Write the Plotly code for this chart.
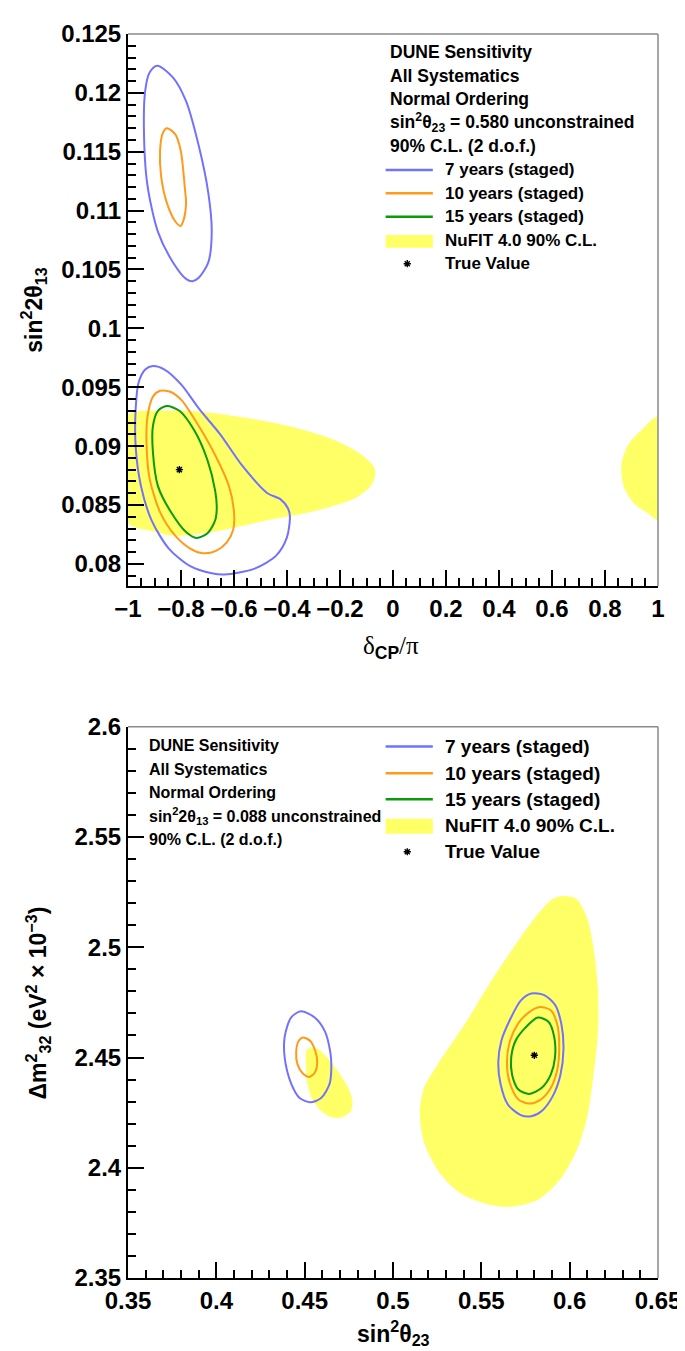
import plotly.graph_objects as go

# ---------------- DATA: top panel (delta_CP/pi vs sin^2 2theta13) ----------------
top_xticks = [-1, -0.8, -0.6, -0.4, -0.2, 0, 0.2, 0.4, 0.6, 0.8, 1]
top_xticklabels = ["\u22121", "\u22120.8", "\u22120.6", "\u22120.4", "\u22120.2", "0", "0.2", "0.4", "0.6", "0.8", "1"]
top_yticks = [0.08, 0.085, 0.09, 0.095, 0.1, 0.105, 0.11, 0.115, 0.12, 0.125]
top_yticklabels = ["0.08", "0.085", "0.09", "0.095", "0.1", "0.105", "0.11", "0.115", "0.12", "0.125"]

nufit_top_left_x = [-1.0, -0.879, -0.717, -0.555, -0.393, -0.231, -0.134, -0.077, -0.066, -0.085, -0.150,
                    -0.312, -0.474, -0.636, -0.749, -0.830, -0.911, -1.0]
nufit_top_left_y = [0.0926, 0.0930, 0.0929, 0.0924, 0.0917, 0.0906, 0.0895, 0.0884, 0.0877, 0.0866, 0.0855,
                    0.0844, 0.0837, 0.0829, 0.0825, 0.0824, 0.0828, 0.0835]
nufit_top_right_x = [1.0, 0.935, 0.887, 0.862, 0.870, 0.911, 0.968, 1.0]
nufit_top_right_y = [0.0925, 0.0913, 0.0901, 0.0884, 0.0866, 0.0851, 0.0842, 0.0837]

y7_top_upper_x = [-0.890, -0.830, -0.781, -0.733, -0.697, -0.684, -0.697, -0.733, -0.757, -0.781, -0.830,
                  -0.887, -0.927, -0.940, -0.935, -0.919]
y7_top_upper_y = [0.1223, 0.1213, 0.1193, 0.1155, 0.1115, 0.1082, 0.1056, 0.1043, 0.1040, 0.1042, 0.1056,
                  0.1082, 0.1122, 0.1170, 0.1202, 0.1217]
y10_top_upper_x = [-0.854, -0.822, -0.801, -0.785, -0.781, -0.789, -0.802, -0.822, -0.854, -0.875, -0.879, -0.870]
y10_top_upper_y = [0.1170, 0.1165, 0.1151, 0.1118, 0.1107, 0.1093, 0.1087, 0.1091, 0.1107, 0.1129, 0.1151, 0.1165]

y7_top_lower_x = [-0.906, -0.862, -0.798, -0.733, -0.652, -0.571, -0.474, -0.425, -0.396, -0.389, -0.401,
                  -0.441, -0.522, -0.636, -0.684, -0.765, -0.846, -0.911, -0.951, -0.971, -0.971, -0.960, -0.935]
y7_top_lower_y = [0.0968, 0.0965, 0.0952, 0.0932, 0.0910, 0.0884, 0.0860, 0.0855, 0.0847, 0.0840, 0.0822,
                  0.0807, 0.0796, 0.0791, 0.0792, 0.0798, 0.0813, 0.0837, 0.0866, 0.0899, 0.0932, 0.0954, 0.0965]
y10_top_lower_x = [-0.879, -0.838, -0.798, -0.733, -0.668, -0.619, -0.600, -0.603, -0.628, -0.668, -0.717,
                   -0.765, -0.822, -0.879, -0.919, -0.930, -0.927, -0.906]
y10_top_lower_y = [0.0947, 0.0946, 0.0939, 0.0917, 0.0891, 0.0866, 0.0844, 0.0829, 0.0818, 0.0811, 0.0809,
                   0.0813, 0.0824, 0.0844, 0.0873, 0.0902, 0.0924, 0.0942]
y15_top_x = [-0.854, -0.806, -0.749, -0.700, -0.671, -0.665, -0.671, -0.700, -0.741, -0.781, -0.838,
             -0.887, -0.906, -0.906, -0.887]
y15_top_y = [0.0934, 0.0930, 0.0913, 0.0888, 0.0862, 0.0848, 0.0837, 0.0826, 0.0822, 0.0827, 0.0844,
             0.0866, 0.0895, 0.0917, 0.0930]
true_top = (-0.806, 0.0880)

# ---------------- DATA: bottom panel (sin^2 theta23 vs dm^2_32) ----------------
bot_xticks = [0.35, 0.4, 0.45, 0.5, 0.55, 0.6, 0.65]
bot_xticklabels = ["0.35", "0.4", "0.45", "0.5", "0.55", "0.6", "0.65"]
bot_yticks = [2.35, 2.4, 2.45, 2.5, 2.55, 2.6]
bot_yticklabels = ["2.35", "2.4", "2.45", "2.5", "2.55", "2.6"]

nufit_bot_small_x = [0.4513, 0.4569, 0.4629, 0.4702, 0.4751, 0.4770, 0.4763, 0.4714, 0.4666, 0.4605, 0.4545, 0.4515, 0.4508]
nufit_bot_small_y = [2.4537, 2.4541, 2.4499, 2.4422, 2.4355, 2.4307, 2.4259, 2.4230, 2.4226, 2.4249, 2.4307, 2.4383, 2.4460]
nufit_bot_big_x = [0.5965, 0.6038, 0.6099, 0.6135, 0.6160, 0.6160, 0.6135, 0.6099, 0.6038, 0.5941, 0.5820, 0.5662,
                   0.5528, 0.5382, 0.5261, 0.5176, 0.5152, 0.5176, 0.5261, 0.5407, 0.5553, 0.5698, 0.5820, 0.5905]
nufit_bot_big_y = [2.5232, 2.5219, 2.5132, 2.4998, 2.4806, 2.4614, 2.4422, 2.4230, 2.4076, 2.3942, 2.3855, 2.3823,
                   2.3836, 2.3884, 2.3980, 2.4115, 2.4249, 2.4364, 2.4479, 2.4652, 2.4844, 2.5017, 2.5151, 2.5219]

y7_bot_left_x = [0.4479, 0.4557, 0.4617, 0.4649, 0.4642, 0.4593, 0.4532, 0.4472, 0.4423, 0.4387, 0.4387, 0.4423]
y7_bot_left_y = [2.4710, 2.4681, 2.4614, 2.4499, 2.4383, 2.4316, 2.4297, 2.4316, 2.4383, 2.4499, 2.4595, 2.4681]
y10_bot_left_x = [0.4489, 0.4532, 0.4561, 0.4571, 0.4557, 0.4525, 0.4491, 0.4459, 0.4452, 0.4464]
y10_bot_left_y = [2.4591, 2.4575, 2.4527, 2.4479, 2.4431, 2.4412, 2.4426, 2.4470, 2.4527, 2.4572]

y7_bot_right_x = [0.5783, 0.5856, 0.5917, 0.5953, 0.5965, 0.5948, 0.5905, 0.5844, 0.5783, 0.5723, 0.5650,
                  0.5608, 0.5596, 0.5613, 0.5662, 0.5723]
y7_bot_right_y = [2.4790, 2.4783, 2.4739, 2.4652, 2.4537, 2.4422, 2.4326, 2.4259, 2.4234, 2.4239, 2.4287,
                  2.4383, 2.4479, 2.4575, 2.4671, 2.4758]
y10_bot_right_x = [0.5832, 0.5893, 0.5929, 0.5941, 0.5929, 0.5888, 0.5832, 0.5771, 0.5710, 0.5662, 0.5645,
                   0.5662, 0.5710, 0.5771]
y10_bot_right_y = [2.4729, 2.4714, 2.4652, 2.4556, 2.4441, 2.4355, 2.4307, 2.4291, 2.4310, 2.4383, 2.4479,
                   2.4575, 2.4656, 2.4706]
y15_bot_right_x = [0.5820, 0.5880, 0.5912, 0.5917, 0.5893, 0.5844, 0.5771, 0.5710, 0.5674, 0.5669, 0.5693, 0.5747]
y15_bot_right_y = [2.4681, 2.4662, 2.4595, 2.4499, 2.4422, 2.4364, 2.4335, 2.4355, 2.4422, 2.4499, 2.4575, 2.4633]
true_bot = (0.580, 2.451)

series_names = ["7 years (staged)", "10 years (staged)", "15 years (staged)", "NuFIT 4.0 90% C.L.", "True Value"]
top_header = ["DUNE Sensitivity", "All Systematics", "Normal Ordering",
              "sin<sup>2</sup>\u03b8<sub>23</sub> = 0.580 unconstrained", "90% C.L. (2 d.o.f.)"]
bot_header = ["DUNE Sensitivity", "All Systematics", "Normal Ordering",
              "sin<sup>2</sup>2\u03b8<sub>13</sub> = 0.088 unconstrained", "90% C.L. (2 d.o.f.)"]

# ---------------- STYLE ----------------
BLUE = "#7272ff"
ORANGE = "#ff9a1a"
GREEN = "#0a9a0a"
YELLOW = "#ffff66"
FONT = "Liberation Sans, Arial, Helvetica, sans-serif"
W, H = 685, 1351
L, R, T, B = 120, 26, 13, 81
PW = W - L - R
PH = H - T - B
TOP_DOM = [1 - (571 - T) / PH, 1.0]
BOT_DOM = [0.0, 1 - (713 - T) / PH]
STAR = dict(symbol="asterisk-open", size=6, color="black", line=dict(width=1.4, color="black"))


def pp(px, py):
    """pixel -> paper coordinates"""
    return (px - L) / PW, (H - B - py) / PH


def closed(xs, ys):
    return list(xs) + [xs[0]], list(ys) + [ys[0]]


fig = go.Figure()


def add_fill(xs, ys, xa, ya):
    cx, cy = closed(xs, ys)
    fig.add_trace(go.Scatter(x=cx, y=cy, mode="lines", fill="toself", fillcolor=YELLOW,
                             line=dict(width=0, shape="spline", smoothing=0.8, color=YELLOW),
                             xaxis=xa, yaxis=ya, showlegend=False, hoverinfo="skip"))


def add_line(xs, ys, color, xa, ya):
    cx, cy = closed(xs, ys)
    fig.add_trace(go.Scatter(x=cx, y=cy, mode="lines",
                             line=dict(width=2, color=color, shape="spline", smoothing=0.8),
                             xaxis=xa, yaxis=ya, showlegend=False, hoverinfo="skip"))


# top panel
add_fill(nufit_top_left_x, nufit_top_left_y, "x", "y")
add_fill(nufit_top_right_x, nufit_top_right_y, "x", "y")
add_line(y7_top_upper_x, y7_top_upper_y, BLUE, "x", "y")
add_line(y10_top_upper_x, y10_top_upper_y, ORANGE, "x", "y")
add_line(y7_top_lower_x, y7_top_lower_y, BLUE, "x", "y")
add_line(y10_top_lower_x, y10_top_lower_y, ORANGE, "x", "y")
add_line(y15_top_x, y15_top_y, GREEN, "x", "y")
fig.add_trace(go.Scatter(x=[true_top[0]], y=[true_top[1]], mode="markers", xaxis="x", yaxis="y",
                         marker=STAR, showlegend=False))

# bottom panel
add_fill(nufit_bot_small_x, nufit_bot_small_y, "x2", "y2")
add_fill(nufit_bot_big_x, nufit_bot_big_y, "x2", "y2")
add_line(y7_bot_left_x, y7_bot_left_y, BLUE, "x2", "y2")
add_line(y10_bot_left_x, y10_bot_left_y, ORANGE, "x2", "y2")
add_line(y7_bot_right_x, y7_bot_right_y, BLUE, "x2", "y2")
add_line(y10_bot_right_x, y10_bot_right_y, ORANGE, "x2", "y2")
add_line(y15_bot_right_x, y15_bot_right_y, GREEN, "x2", "y2")
fig.add_trace(go.Scatter(x=[true_bot[0]], y=[true_bot[1]], mode="markers", xaxis="x2", yaxis="y2",
                         marker=STAR, showlegend=False))

tickfont = dict(family=FONT, size=24, color="black", weight="bold")


def axis(rng, tv, tt, minor_dt, dom, anchor, t0):
    return dict(range=rng, domain=dom, anchor=anchor, tickmode="array", tickvals=tv, ticktext=tt,
                ticks="inside", ticklen=16, tickwidth=1.5, tickcolor="black",
                showline=True, linecolor="black", linewidth=2, mirror=False,
                showgrid=False, zeroline=False, tickfont=tickfont,
                minor=dict(ticks="inside", ticklen=8, tickwidth=1.5, tickcolor="black",
                           dtick=minor_dt, tick0=t0, showgrid=False))


fig.update_layout(
    width=W, height=H, margin=dict(l=L, r=R, t=T, b=B, pad=0),
    paper_bgcolor="white", plot_bgcolor="white", showlegend=False,
    xaxis=axis([-1, 1], top_xticks, top_xticklabels, 0.05, [0, 1], "y", -1),
    yaxis=axis([0.0781, 0.125], top_yticks, top_yticklabels, 0.001, TOP_DOM, "x", 0.08),
    xaxis2=axis([0.35, 0.65], bot_xticks, bot_xticklabels, 0.01, [0, 1], "y2", 0.35),
    yaxis2=axis([2.35, 2.6], bot_yticks, bot_yticklabels, 0.01, BOT_DOM, "x2", 2.35),
)

shapes = []
# grey top/right frame lines
for xr, yr in (("x domain", "y domain"), ("x2 domain", "y2 domain")):
    shapes.append(dict(type="line", xref=xr, yref=yr, x0=0, x1=1, y0=1, y1=1, line=dict(color="#8a8a8a", width=1.5)))
    shapes.append(dict(type="line", xref=xr, yref=yr, x0=1, x1=1, y0=0, y1=1, line=dict(color="#8a8a8a", width=1.5)))

annotations = []


def txt(px, py, text, size, bold=True, anchor="left", angle=0, family=FONT):
    x, y = pp(px, py)
    annotations.append(dict(x=x, y=y, xref="paper", yref="paper", text=text, showarrow=False,
                            xanchor=anchor, yanchor="middle", textangle=angle,
                            font=dict(family=family, size=size, color="black",
                                      weight="bold" if bold else "normal")))


# ---- top legend ----
for i, line in enumerate(top_header):
    txt(384, 31.5 + 23.7 * i, line, 17.5)
leg_y_top = [150.3, 174.0, 197.7, 221.4, 245.1]
for name, ly in zip(series_names, leg_y_top):
    txt(440, ly, name, 17)
for color, ly in zip([BLUE, ORANGE, GREEN], leg_y_top[:3]):
    x0, y0 = pp(382, ly)
    x1, _ = pp(430, ly)
    shapes.append(dict(type="line", xref="paper", yref="paper", x0=x0, x1=x1, y0=y0, y1=y0,
                       line=dict(color=color, width=2.5)))
bx0, by0 = pp(382, 216)
bx1, by1 = pp(430, 229)
shapes.append(dict(type="rect", xref="paper", yref="paper", x0=bx0, x1=bx1, y0=by1, y1=by0,
                   fillcolor=YELLOW, line=dict(width=0)))

# ---- bottom legend ----
for i, line in enumerate(bot_header):
    txt(139, 732 + 23.75 * i, line, 16)
leg_y_bot = [733.0, 760.0, 786.3, 813.0, 839.3]
for name, ly in zip(series_names, leg_y_bot):
    txt(440, ly, name, 19)
for color, ly in zip([BLUE, ORANGE, GREEN], leg_y_bot[:3]):
    x0, y0 = pp(382, ly)
    x1, _ = pp(430, ly)
    shapes.append(dict(type="line", xref="paper", yref="paper", x0=x0, x1=x1, y0=y0, y1=y0,
                       line=dict(color=color, width=2.5)))
bx0, by0 = pp(382, 806)
bx1, by1 = pp(430, 821)
shapes.append(dict(type="rect", xref="paper", yref="paper", x0=bx0, x1=bx1, y0=by1, y1=by0,
                   fillcolor=YELLOW, line=dict(width=0)))


# legend star markers (placed in pixel space, converted to axis values)
def pix_to_data(px, py, xr, yr, dom):
    fx = (px - L) / PW
    fy_paper = (H - B - py) / PH
    fy = (fy_paper - dom[0]) / (dom[1] - dom[0])
    return xr[0] + fx * (xr[1] - xr[0]), yr[0] + fy * (yr[1] - yr[0])


sx, sy = pix_to_data(404, 245.1, [-1, 1], [0.0781, 0.125], TOP_DOM)
fig.add_trace(go.Scatter(x=[sx], y=[sy], mode="markers", xaxis="x", yaxis="y", showlegend=False, marker=STAR))
sx, sy = pix_to_data(404, 839.3, [0.35, 0.65], [2.35, 2.6], BOT_DOM)
fig.add_trace(go.Scatter(x=[sx], y=[sy], mode="markers", xaxis="x2", yaxis="y2", showlegend=False, marker=STAR))

# ---- axis titles ----
txt(24, 292, "sin<sup>2</sup>2\u03b8<sub>13</sub>", 23, anchor="center", angle=-90)
txt(387, 633, "<span style='font-family:Liberation Serif'>\u03b4</span><sub><b>CP</b></sub>"
              "<span style='font-family:Liberation Serif'>/\u03c0</span>", 25, bold=False, anchor="center")
txt(28, 992, "\u0394m<sup>2</sup><sub>32</sub> (eV<sup>2</sup> \u00d7 10<sup>\u22123</sup>)", 23,
    anchor="center", angle=-90)
txt(390, 1326, "sin<sup>2</sup>\u03b8<sub>23</sub>", 23, anchor="center")

fig.update_layout(shapes=shapes, annotations=annotations)
fig.write_html("out.html")
